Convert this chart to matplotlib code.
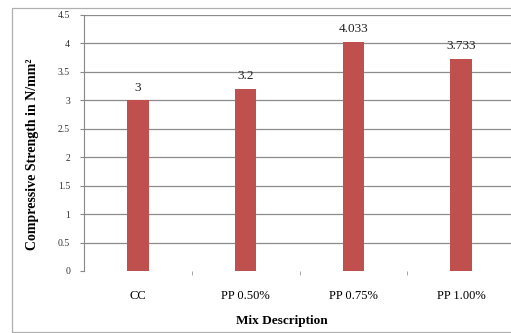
import numpy as np
import matplotlib
matplotlib.use("Agg")
import matplotlib.pyplot as plt
import matplotlib.patches as patches

categories = ["CC", "PP 0.50%", "PP 0.75%", "PP 1.00%"]
strength = [3, 3.2, 4.033, 3.733]
value_labels = ["3", "3.2", "4.033", "3.733"]
yticks = [0, 0.5, 1, 1.5, 2, 2.5, 3, 3.5, 4, 4.5]
ytick_labels = ["0", "0.5", "1", "1.5", "2", "2.5", "3", "3.5", "4", "4.5"]

plt.rcParams['font.family'] = ['Liberation Serif', 'DejaVu Serif']

fig = plt.figure(figsize=(5.11, 3.33), dpi=100)
ax = fig.add_axes([84/511, 1-271/333, 431/511, 256/333])

x = np.arange(len(categories))
ax.bar(x, strength, width=0.2, color='#c0504d', zorder=3)
for xi, v, lab in zip(x, strength, value_labels):
	ax.text(xi, v + 0.12, lab, ha='center', va='bottom', fontsize=9.5, color='#222222')

ax.set_xlim(-0.5, 3.5)
ax.set_ylim(0, 4.5)
ax.set_yticks(yticks)
ax.set_yticklabels(ytick_labels, fontsize=7, color='#333333')
ax.set_xticks(x)
ax.set_xticklabels(categories, fontsize=9)
ax.tick_params(axis='x', length=0, pad=14)
ax.set_xticks([0.5, 1.5, 2.5], minor=True)
ax.tick_params(axis='x', which='minor', length=3, color='#999999', direction='out')
ax.tick_params(axis='y', length=3, color='#888888', pad=7)

for yv in yticks[1:]:
	ax.axhline(yv, color='#8c8c8c', lw=0.9, zorder=1)

for s in ['top', 'right', 'bottom']:
	ax.spines[s].set_visible(False)
ax.spines['left'].set_color('#888888')

fig.text(33/511, 1-154/333, "Compressive Strength in N/mm²", rotation=90,
	ha='center', va='center', fontsize=10, fontweight='bold')
fig.text(282/511, 1-321/333, "Mix Description", ha='center', va='center',
	fontsize=9.5, fontweight='bold')

border = patches.Rectangle((12/511, 1/333), 1.2, 324/333, transform=fig.transFigure,
	fill=False, edgecolor='#b0b0b0', lw=0.9, clip_on=False)
fig.add_artist(border)

fig.savefig("out.png", dpi=100)
